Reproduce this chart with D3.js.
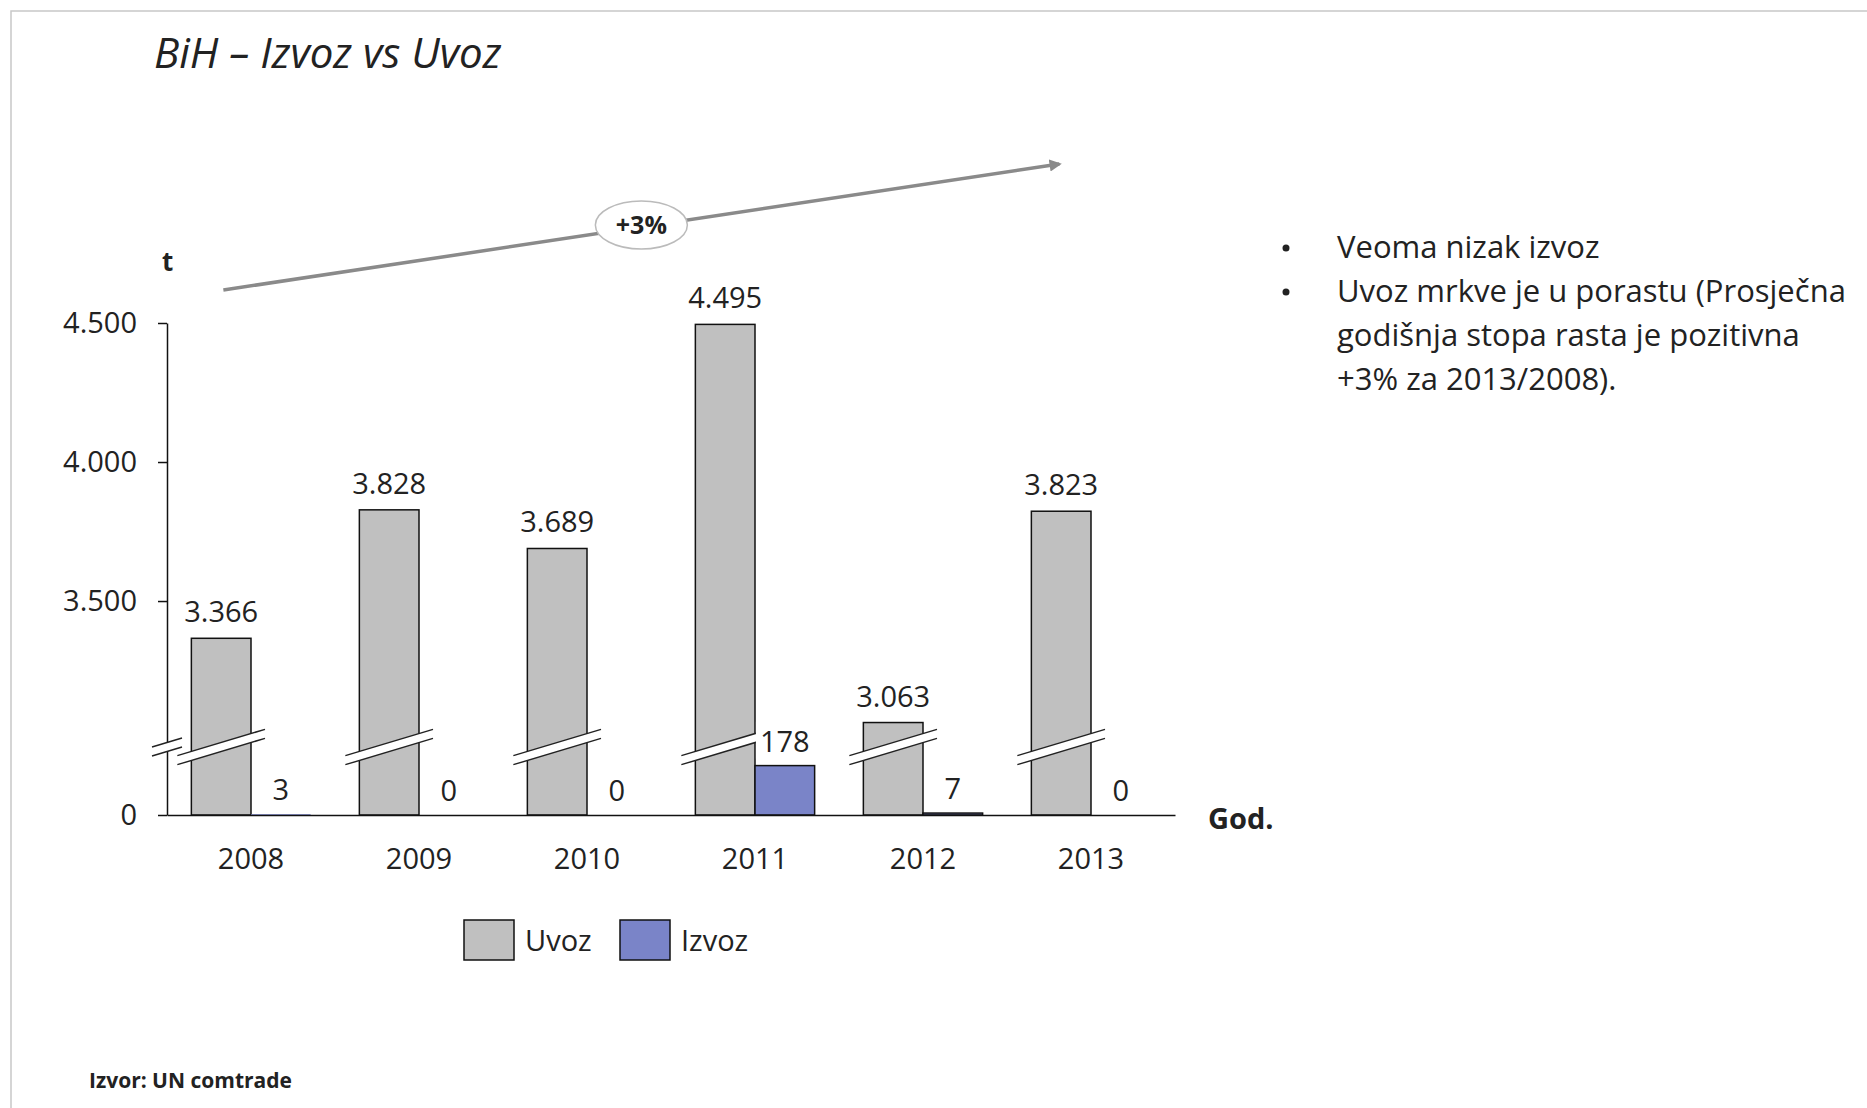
<!DOCTYPE html>
<html>
<head>
<meta charset="utf-8">
<script src="https://cdn.jsdelivr.net/npm/d3@7"></script>
<style>
  body { margin: 0; background: #fff; }
  text { font-family: "Open Sans", sans-serif; fill: #222; }
</style>
</head>
<body>
<svg id="chart"></svg>
<script>
// Data
const years = ["2008", "2009", "2010", "2011", "2012", "2013"];
const uvoz = [3366, 3828, 3689, 4495, 3063, 3823];
const izvoz = [3, 0, 0, 178, 7, 0];
const series = ["Uvoz", "Izvoz"];
const yTicks = [0, 3500, 4000, 4500];
const growthLabel = "+3%";
const notes = [
  ["Veoma nizak izvoz"],
  ["Uvoz mrkve je u porastu (Prosječna", "godišnja stopa rasta je pozitivna", "+3% za 2013/2008)."]
];

const colors = { Uvoz: "#c0c0c0", Izvoz: "#7a84c8" };
const fmt = d3.formatLocale({ decimal: ",", thousands: ".", grouping: [3], currency: ["", ""] }).format(",");

const W = 1867, H = 1108;
const svg = d3.select("#chart").attr("width", W).attr("height", H);

// slide frame
svg.append("rect")
  .attr("x", 11).attr("y", 11).attr("width", W).attr("height", H)
  .attr("fill", "none").attr("stroke", "#c8c8c8").attr("stroke-width", 1.5);

// title
svg.append("text")
  .attr("x", 154).attr("y", 68)
  .style("font-size", "42px").style("font-style", "italic")
  .text("BiH – Izvoz vs Uvoz");

// Scales: broken y axis (0..245 | 2975..4500), same slope on both parts
const yBreakLow = 245, yBreakHigh = 2975;
const y = d3.scaleLinear()
  .domain([0, yBreakLow, yBreakHigh, 4500])
  .range([815, 747, 747, 323]);
const yBreak = y(yBreakLow);

const x0 = d3.scaleBand().domain(years).range([167, 1175]).paddingInner(0.29).paddingOuter(0.145);
const x1 = d3.scaleBand().domain(series).range([0, x0.bandwidth()]);

const data = years.map((yr, i) => ({ year: yr, Uvoz: uvoz[i], Izvoz: izvoz[i] }));

// bars
const groups = svg.append("g").selectAll("g")
  .data(data).join("g")
  .attr("transform", d => `translate(${x0(d.year)},0)`);

groups.selectAll("rect")
  .data(d => series.map(k => ({ key: k, value: d[k] })))
  .join("rect")
  .attr("x", d => x1(d.key))
  .attr("y", d => y(d.value))
  .attr("width", x1.bandwidth())
  .attr("height", d => y(0) - y(d.value))
  .attr("fill", d => colors[d.key])
  .attr("stroke", "#111")
  .attr("stroke-width", d => (y(0) - y(d.value)) >= 1.5 ? 1.5 : 0);

// break marks (white band with two slanted lines)
const slope = -0.3, gap = 9;
function breakMark(cx, half) {
  const g = svg.append("g");
  const yt = yBreak - gap / 2, yb = yBreak + gap / 2;
  const p = [
    [cx - half, yt - slope * half], [cx + half, yt + slope * half],
    [cx + half, yb + slope * half], [cx - half, yb - slope * half]
  ];
  g.append("polygon").attr("points", p.map(q => q.join(",")).join(" ")).attr("fill", "#fff");
  [[p[0], p[1]], [p[3], p[2]]].forEach(([a, b]) => {
    g.append("line")
      .attr("x1", a[0]).attr("y1", a[1]).attr("x2", b[0]).attr("y2", b[1])
      .attr("stroke", "#222").attr("stroke-width", 1.5);
  });
}

// axes
const yAxis = svg.append("g")
  .attr("transform", `translate(${x0.range()[0]},0)`)
  .call(d3.axisLeft(y).tickValues(yTicks).tickFormat(fmt).tickSize(9).tickSizeOuter(0).tickPadding(21));
yAxis.select(".domain").attr("stroke", "#111").attr("stroke-width", 1.5);
yAxis.selectAll(".tick line").attr("stroke", "#111").attr("stroke-width", 1.5);
yAxis.selectAll(".tick text")
  .style("font-family", "'Open Sans', sans-serif").style("font-size", "29px").attr("fill", "#222");

const xAxis = svg.append("g")
  .attr("transform", `translate(0,${y(0)})`)
  .call(d3.axisBottom(x0).tickSize(0).tickSizeOuter(0).tickPadding(33));
xAxis.select(".domain").attr("stroke", "#111").attr("stroke-width", 1.5);
xAxis.selectAll(".tick text")
  .style("font-family", "'Open Sans', sans-serif").style("font-size", "29px").attr("fill", "#222");

data.forEach(d => breakMark(x0(d.year) + x1("Uvoz") + x1.bandwidth() / 2, x1.bandwidth() / 2 + 14));
breakMark(x0.range()[0], 15);

// value labels
data.forEach(d => {
  const gx = x0(d.year);
  svg.append("text")
    .attr("x", gx + x1("Uvoz") + x1.bandwidth() / 2)
    .attr("y", y(d.Uvoz) - 16)
    .attr("text-anchor", "middle")
    .style("font-size", "29px")
    .text(fmt(d.Uvoz));
  const t = svg.append("text")
    .attr("x", gx + x1("Izvoz") + x1.bandwidth() / 2)
    .attr("y", y(d.Izvoz) - 14)
    .attr("text-anchor", "middle")
    .style("font-size", "29px")
    .text(fmt(d.Izvoz));
  const bb = t.node().getBBox();
  svg.insert("rect", () => t.node())
    .attr("x", bb.x - 4).attr("y", bb.y + 1).attr("width", bb.width + 8).attr("height", bb.height - 2)
    .attr("fill", "#fff");
});

// axis titles
svg.append("text").attr("x", 162).attr("y", 271)
  .style("font-size", "26px").style("font-weight", "bold").text("t");
svg.append("text").attr("x", 1208).attr("y", 829)
  .style("font-size", "29px").style("font-weight", "bold").text("God.");

// growth arrow
svg.append("defs").append("marker")
  .attr("id", "arrow").attr("viewBox", "0 0 10 10").attr("refX", 8).attr("refY", 5)
  .attr("markerWidth", 3.5).attr("markerHeight", 3.5).attr("orient", "auto")
  .append("path").attr("d", "M0,0 L10,5 L0,10 z").attr("fill", "#8a8a8a");

const ax1 = x0(years[0]) + 32, ay1 = y(4500) - 33;
const ax2 = x0(years[years.length - 1]) + 28, ay2 = y(4500) - 159;
svg.append("line")
  .attr("x1", ax1).attr("y1", ay1).attr("x2", ax2).attr("y2", ay2)
  .attr("stroke", "#8a8a8a").attr("stroke-width", 3.5)
  .attr("marker-end", "url(#arrow)");

const ex = (ax1 + ax2) / 2, ey = (ay1 + ay2) / 2 - 2;
svg.append("ellipse")
  .attr("cx", ex).attr("cy", ey).attr("rx", 46).attr("ry", 24)
  .attr("fill", "#fff").attr("stroke", "#bbb").attr("stroke-width", 1.5);
svg.append("text")
  .attr("x", ex).attr("y", ey + 9)
  .attr("text-anchor", "middle")
  .style("font-size", "25px").style("font-weight", "bold")
  .text(growthLabel);

// legend
const legend = svg.append("g").attr("transform", "translate(464,920)");
series.forEach((k, i) => {
  const lg = legend.append("g").attr("transform", `translate(${i * 156},0)`);
  lg.append("rect").attr("width", 50).attr("height", 40)
    .attr("fill", colors[k]).attr("stroke", "#111").attr("stroke-width", 1.5);
  lg.append("text").attr("x", 61).attr("y", 31)
    .style("font-size", "29px").text(k);
});

// notes
let lineY = 258;
notes.forEach(lines => {
  svg.append("circle").attr("cx", 1286).attr("cy", lineY - 10).attr("r", 3.5).attr("fill", "#222");
  lines.forEach(l => {
    svg.append("text").attr("x", 1337).attr("y", lineY)
      .style("font-size", "31px").attr("fill", "#262626").text(l);
    lineY += 44;
  });
});

// source
svg.append("text").attr("x", 89).attr("y", 1088)
  .style("font-size", "21px").style("font-weight", "bold").text("Izvor: UN comtrade");
</script>
</body>
</html>
